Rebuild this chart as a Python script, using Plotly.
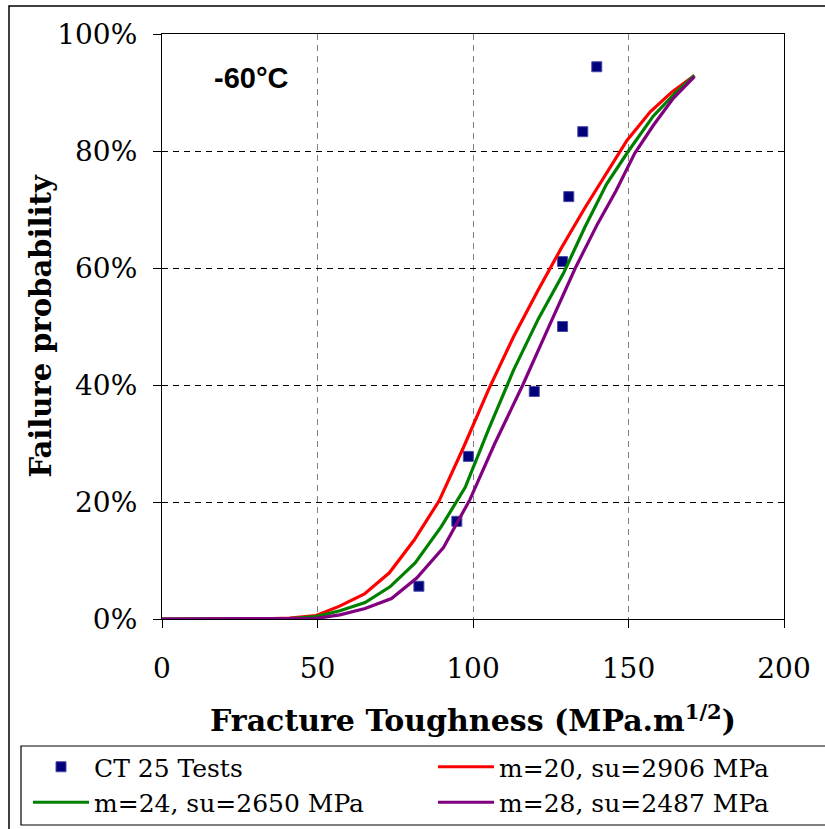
import plotly.graph_objects as go

# ---- data ----
test_K = [82.6, 94.8, 98.5, 119.7, 128.8, 128.8, 130.8, 135.3, 139.8]
test_P = [5.6, 16.7, 27.8, 38.9, 50.0, 61.1, 72.2, 83.3, 94.4]

red_K = [0, 8, 16, 25, 33, 41, 49.6, 57.1, 65.1, 73.1, 81.1, 89.1, 97, 105, 113, 121, 128.5, 136, 143, 149.5, 157, 164, 171.2]
red_P = [0, 0, 0, 0, 0.02, 0.15, 0.6, 2.2, 4.3, 7.9, 13.5, 20.2, 29.4, 39.2, 48.2, 56.3, 63.5, 70.3, 76.2, 81.8, 86.7, 90.1, 92.9]

green_K = [0, 8, 16, 25, 33, 41, 49.6, 57.2, 65.3, 73.3, 81.4, 89.8, 97.5, 105, 113, 121, 129, 136, 143, 150, 158, 165, 171.2]
green_P = [0, 0, 0, 0, 0, 0.05, 0.4, 1.4, 2.8, 5.5, 9.6, 15.8, 22.5, 32.4, 42.5, 51.3, 59.0, 67.0, 74.4, 80.0, 86.0, 89.9, 92.9]

purple_K = [0, 8, 16, 25, 33, 41, 49.6, 57.2, 65.3, 73.8, 81.9, 90.5, 99, 107, 116, 124, 132.9, 140, 146, 152, 158, 164.4, 171.2]
purple_P = [0, 0, 0, 0, 0, 0, 0.1, 0.7, 1.8, 3.5, 7.0, 12.2, 20.4, 30.0, 40.0, 49.5, 60.0, 67.5, 73.2, 79.6, 84.4, 89.0, 92.7]

x_ticks = [0, 50, 100, 150, 200]
y_ticks = [0, 20, 40, 60, 80, 100]
y_ticktext = ["0%", "20%", "40%", "60%", "80%", "100%"]

names = ["CT 25 Tests", "m=20, su=2906 MPa", "m=24, su=2650 MPa", "m=28, su=2487 MPa"]

W, H = 825, 829

fig = go.Figure()
fig.add_trace(go.Scatter(x=test_K, y=test_P, mode="markers", name=names[0], legend="legend",
                         marker=dict(symbol="square", size=10, color="#00007a",
                                     line=dict(color="#4a4aa8", width=1))))
fig.add_trace(go.Scatter(x=red_K, y=red_P, mode="lines", name=names[1], legend="legend2",
                         line=dict(color="#ff0000", width=3.2)))
fig.add_trace(go.Scatter(x=green_K, y=green_P, mode="lines", name=names[2], legend="legend",
                         line=dict(color="#008000", width=3.2)))
fig.add_trace(go.Scatter(x=purple_K, y=purple_P, mode="lines", name=names[3], legend="legend2",
                         line=dict(color="#800080", width=3.2)))

axis_common = dict(showline=True, mirror=True, linecolor="black", linewidth=1.3,
                   ticks="outside", ticklen=8, tickcolor="black", tickwidth=1,
                   zeroline=False, gridwidth=1,
                   tickfont=dict(family="DejaVu Serif", size=28, color="black"))

legend_common = dict(orientation="v", xref="container", yref="container",
                     xanchor="left", yanchor="top", borderwidth=0,
                     bgcolor="rgba(0,0,0,0)",
                     font=dict(family="DejaVu Serif", size=25, color="black"),
                     itemwidth=56, traceorder="normal", tracegroupgap=0)

fig.update_layout(
    width=W, height=H,
    margin=dict(l=162, r=41, t=34, b=210, autoexpand=False),
    paper_bgcolor="white", plot_bgcolor="white",
    font=dict(family="DejaVu Serif", color="black"),
    xaxis=dict(range=[0, 200], tickvals=x_ticks, gridcolor="#808080", griddash="6px,5px",
               ticklabelstandoff=16,
               title=dict(text="<b>Fracture Toughness (MPa.m<sup>1/2</sup>)</b>",
                          font=dict(family="DejaVu Serif", size=30), standoff=26),
               **axis_common),
    yaxis=dict(range=[0, 100], tickvals=y_ticks, ticktext=y_ticktext, gridcolor="black",
               griddash="6px,5px", ticklabelstandoff=10,
               **axis_common),
    showlegend=True,
    legend=dict(x=28 / W, y=1 - 744 / H, **legend_common),
    legend2=dict(x=433 / W, y=1 - 744 / H, **legend_common),
)

# y-axis title
fig.add_annotation(text="<b>Failure probability</b>", xref="paper", yref="paper",
                   x=(40 - 162) / 622, y=0.5, xanchor="center", yanchor="middle",
                   textangle=-90, showarrow=False,
                   font=dict(family="DejaVu Serif", size=29, color="black"))

fig.add_annotation(text="<b>-60°C</b>", xref="paper", yref="paper",
                   x=(212 - 162) / 622, y=(619 - 78) / 585, xanchor="left", yanchor="middle",
                   showarrow=False, font=dict(family="Liberation Sans", size=29, color="black"))

# outer frame of the figure
fig.add_shape(type="rect", xref="paper", yref="paper",
              x0=(9 - 162) / 622, x1=1.2, y0=-0.5, y1=(619 - 6) / 585,
              line=dict(color="black", width=1.5), fillcolor="rgba(0,0,0,0)", layer="below")
# legend box
fig.add_shape(type="rect", xref="paper", yref="paper",
              x0=(21 - 162) / 622, x1=1.2, y0=(619 - 825) / 585, y1=(619 - 746) / 585,
              line=dict(color="black", width=1.2), fillcolor="rgba(0,0,0,0)", layer="below")

fig.write_html("out.html")
